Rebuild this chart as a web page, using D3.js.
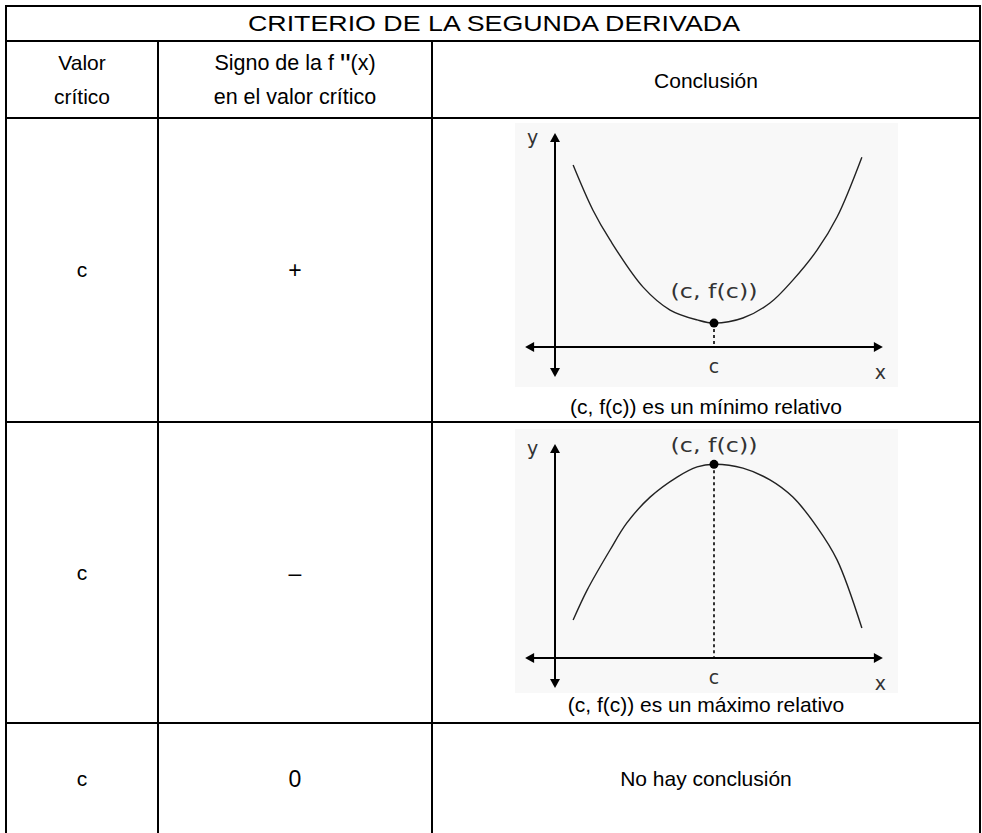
<!DOCTYPE html>
<html>
<head>
<meta charset="utf-8">
<script src="https://cdn.jsdelivr.net/npm/d3@7"></script>
<style>
  body { margin: 0; background: #fff; }
  svg text { font-family: "Liberation Sans", Arial, sans-serif; fill: #000; }
</style>
</head>
<body>
<svg id="chart" width="982" height="833"></svg>
<script>
// table contents
const title = 'CRITERIO DE LA SEGUNDA DERIVADA';
const criticalValues = ['c', 'c', 'c'];
const signs = ['+', '\u2013', '0'];
const captions = ['(c, f(c)) es un mínimo relativo', '(c, f(c)) es un máximo relativo', 'No hay conclusión'];
const pointLabel = '(c, f(c))';

// curves (x, y in sketch units, c = 5)
const minCurve = [
  [0.57, 5.71], [1.19, 4.30], [1.73, 3.36], [2.77, 1.88], [3.62, 1.16], [4.47, 0.85],
  [5.0, 0.75], [5.91, 0.91], [6.76, 1.38], [7.48, 2.10], [8.24, 3.04], [8.87, 4.08], [9.65, 5.96]
];
const maxCurve = [
  [0.57, 1.19], [1.01, 2.13], [1.73, 3.39], [2.26, 4.24], [2.99, 5.05], [3.84, 5.68],
  [4.47, 6.00], [5.0, 6.08], [5.91, 5.96], [6.76, 5.59], [7.48, 5.05], [8.24, 4.11], [8.87, 3.08], [9.65, 0.94]
];
const criticalPoints = [[5.0, 0.75], [5.0, 6.08]];

const svg = d3.select('#chart');

// grid lines of the table
const colX = [6, 158, 432, 980];
const rowY = [6, 41, 118, 422, 723, 840];

const grid = svg.append('g').attr('stroke', '#000').attr('stroke-width', 2);
grid.selectAll('.h').data(rowY.slice(0, 5)).join('line')
  .attr('x1', colX[0] - 1).attr('x2', colX[3] + 1)
  .attr('y1', (d) => d).attr('y2', (d) => d);
grid.append('line').attr('x1', colX[0]).attr('x2', colX[0]).attr('y1', rowY[0]).attr('y2', 833);
grid.append('line').attr('x1', colX[3]).attr('x2', colX[3]).attr('y1', rowY[0]).attr('y2', 833);
grid.selectAll('.v').data([colX[1], colX[2]]).join('line')
  .attr('x1', (d) => d).attr('x2', (d) => d)
  .attr('y1', rowY[1]).attr('y2', 833);

const cx = (i) => (colX[i] + colX[i + 1]) / 2;
const txt = (x, y, s, size) => svg.append('text')
  .attr('x', x).attr('y', y).attr('text-anchor', 'middle')
  .attr('font-size', size || 21).text(s);

// header
txt(494, 31, title, 22).attr('textLength', 492).attr('lengthAdjust', 'spacingAndGlyphs');
txt(cx(0), 70, 'Valor');
txt(cx(0), 104, 'crítico');
const sg = txt(cx(1), 70, 'Signo de la f ', 21.5);
sg.append('tspan').attr('font-size', 30).attr('dy', 4).text('"');
sg.append('tspan').attr('dy', -4).text('(x)');
txt(cx(1), 104, 'en el valor crítico', 21.5);
txt(cx(2), 88, 'Conclusión');

// body cells
const bodyTop = rowY.slice(2, 5);
const bodyBot = [rowY[3], rowY[4], 833];
criticalValues.forEach((v, i) => {
  const mid = (bodyTop[i] + bodyBot[i]) / 2;
  txt(cx(0), i === 2 ? 786 : mid + 7, v);
  txt(cx(1), i === 2 ? 787 : mid + 8, signs[i], i === 2 ? 23 : 23);
});
txt(cx(2), 786, captions[2]);
txt(706, 414, captions[0]);
txt(706, 712, captions[1]);

// sketches
const x = d3.scaleLinear().domain([0, 10]).range([555, 873]);
const y = d3.scaleLinear().domain([0, 7]).range([347, 124]);
const line = d3.line().x((d) => x(d[0])).y((d) => y(d[1])).curve(d3.curveCatmullRom);

const sketchFont = '"DejaVu Sans", sans-serif';

const drawSketch = (dy, curve, pt, isMin) => {
  const g = svg.append('g').attr('transform', `translate(0,${dy})`);
  g.append('rect').attr('x', 515).attr('width', 383).attr('height', 264)
    .attr('fill', '#f8f8f8').attr('y', isMin ? 123 : 118);

  // axes
  const ax = g.append('g').attr('stroke', '#000').attr('stroke-width', 2);
  ax.append('line').attr('x1', x(-0.8)).attr('x2', x(10.15)).attr('y1', y(0)).attr('y2', y(0));
  ax.append('line').attr('x1', x(0)).attr('x2', x(0)).attr('y1', y(6.55)).attr('y2', y(-0.8));
  const tri = (p) => g.append('path').attr('d', d3.line()(p)).attr('fill', '#000');
  const x0 = x(0), y0 = y(0);
  tri([[x(-0.94), y0], [x(-0.94) + 9, y0 - 5], [x(-0.94) + 9, y0 + 5]]);
  tri([[x(10.31), y0], [x(10.31) - 9, y0 - 5], [x(10.31) - 9, y0 + 5]]);
  tri([[x0, y(6.72)], [x0 - 5, y(6.72) + 9], [x0 + 5, y(6.72) + 9]]);
  tri([[x0, y(-0.94)], [x0 - 5, y(-0.94) - 9], [x0 + 5, y(-0.94) - 9]]);

  // curve
  g.append('path').attr('d', line(curve)).attr('fill', 'none')
    .attr('stroke', '#222').attr('stroke-width', 1.4);

  // dotted guide and point
  g.append('line').attr('x1', x(pt[0])).attr('x2', x(pt[0]))
    .attr('y1', y(pt[1])).attr('y2', y(0))
    .attr('stroke', '#000').attr('stroke-width', 1.6).attr('stroke-dasharray', '3,3');
  g.append('circle').attr('cx', x(pt[0])).attr('cy', y(pt[1])).attr('r', 4.5).attr('fill', '#000');

  const lab = (xx, yy, s, size) => g.append('text').attr('x', xx).attr('y', yy)
    .attr('text-anchor', 'middle').attr('font-size', size)
    .style('font-family', sketchFont).style('fill', '#333').text(s);
  lab(x(pt[0]), isMin ? y(pt[1]) - 25 : y(pt[1]) - 12, pointLabel, 19)
    .attr('textLength', 87).attr('lengthAdjust', 'spacingAndGlyphs');
  lab(x(5), y0 + 26, 'c', 19);
  lab(x(10.23), y0 + 32, 'x', 19);
  lab(x(-0.7), y(6.72) + 11, 'y', 19);
};

drawSketch(0, minCurve, criticalPoints[0], true);
drawSketch(311, maxCurve, criticalPoints[1], false);
</script>
</body>
</html>
